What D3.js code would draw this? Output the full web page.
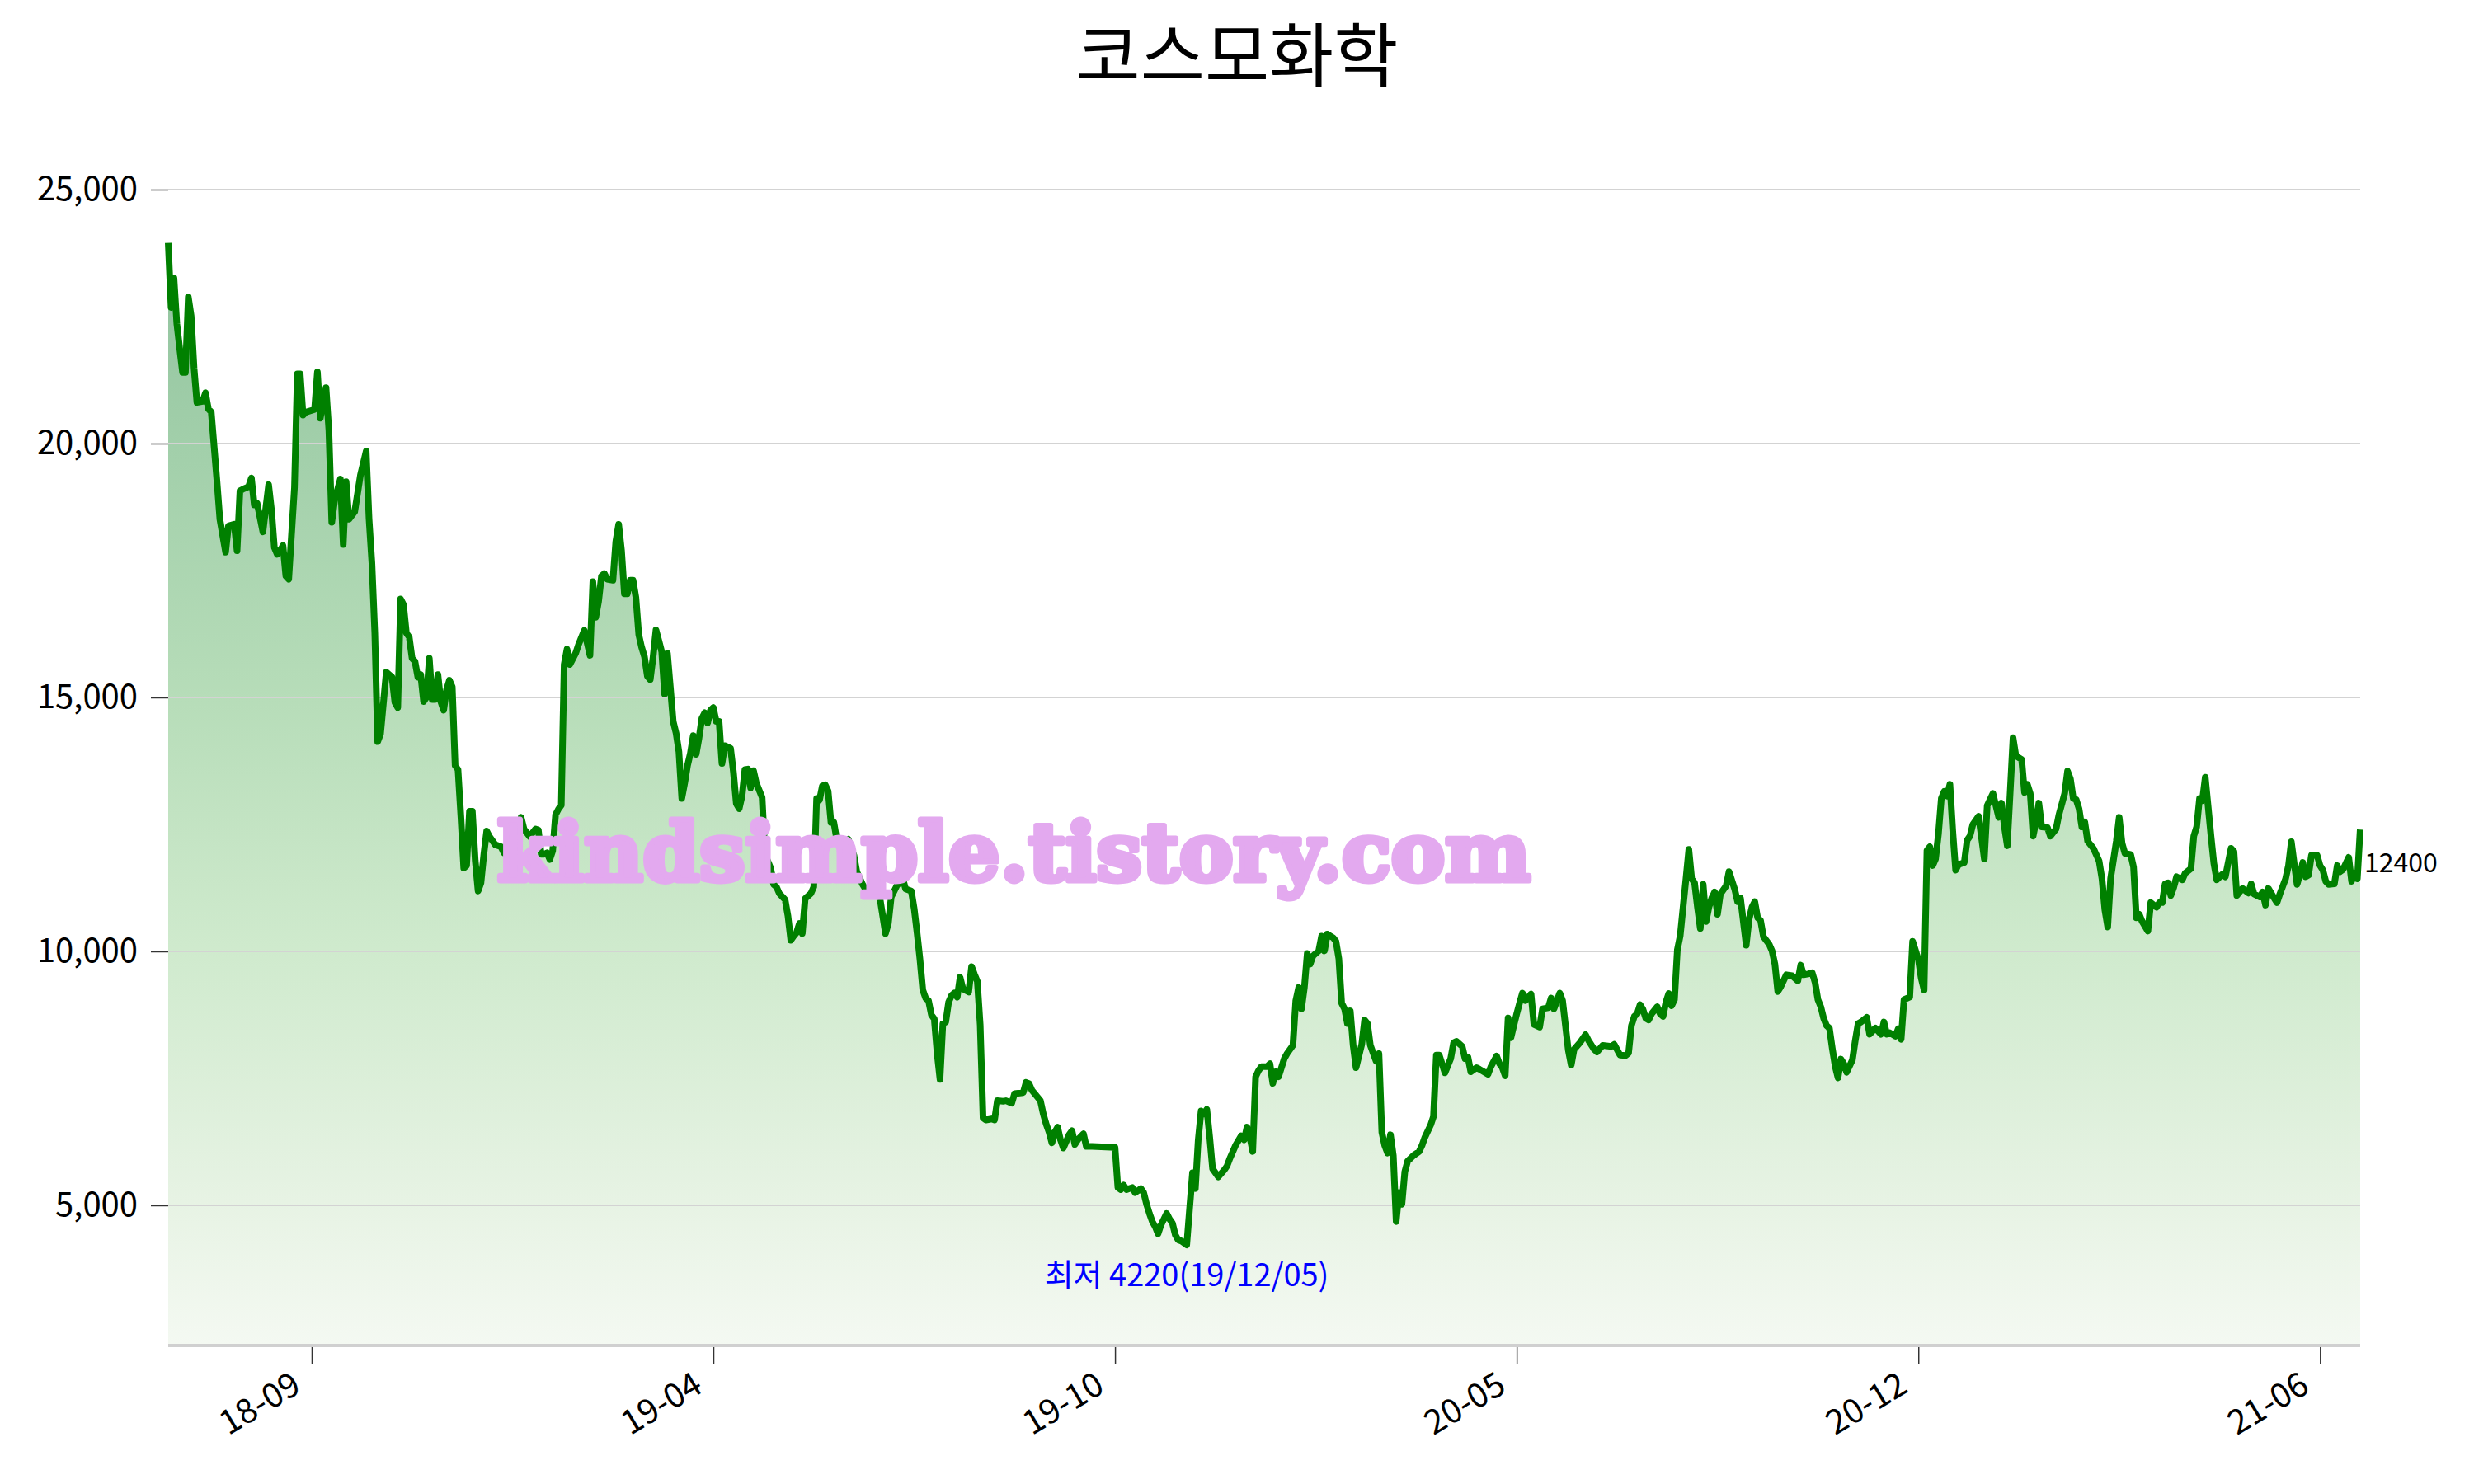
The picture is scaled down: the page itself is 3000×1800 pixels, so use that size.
<!DOCTYPE html>
<html><head><meta charset="utf-8">
<script src="https://cdn.jsdelivr.net/npm/d3@7"></script>
<style>
html,body{margin:0;padding:0;background:#fff;}
text{font-family:"Noto Sans CJK KR","Noto Sans",sans-serif;}
text.wm{font-family:"DejaVu Serif",serif;font-weight:bold;}
</style></head>
<body>
<svg id="chart" width="3000" height="1800"></svg>
<script>
const chartTitle = "코스모화학";
const watermark = "kindsimple.tistory.com";
const minDateLabel = "19/12/05";
// trading-day position of each traced vertex
const dayIndex = [0,1,2,3,4,5,6,7,8,9,10,12,13,14,15,17,18,20,21,23,24,25,26,28,29,30,31,33,35,36,37,38,39,40,41,42,44,45,46,47,48,51,52,53,55,56,57,58,60,61,62,63,65,67,69,70,71,72,73,74,76,78,79,80,81,82,83,84,85,86,87,88,89,90,91,92,93,94,95,96,97,98,99,100,101,102,103,104,105,106,107,108,109,110,111,112,114,116,117,118,121,123,124,126,128,129,130,131,132,133,134,135,136,137,138,139,140,142,143,145,147,148,149,150,151,152,153,155,156,157,158,159,160,161,162,163,164,165,166,167,168,169,170,171,172,173,174,175,176,177,178,179,180,181,182,183,184,185,186,187,188,189,190,191,192,193,194,196,197,198,199,200,201,202,203,204,205,207,208,
210,211,212,213,215,216,217,218,219,220,221,222,224,225,226,227,228,229,230,231,232,233,235,237,239,240,242,244,248,250,251,252,254,
255,256,257,259,260,261,262,263,264,265,266,267,268,269,270,271,272,273,274,275,276,277,279,280,281,282,283,284,285,287,288,289,291,292,294,295,298,299,300,301,303,304,305,306,307,308,309,310,311,312,314,315,316,317,319,320,322,330,331,332,333,334,336,337,339,340,341,342,343,344,345,346,348,349,350,351,352,353,355,356,357,358,359,360,361,362,363,364,366,368,369,370,372,374,375,376,377,378,379,380,381,383,384,385,386,387,389,390,392,393,394,395,396,397,398,399,401,402,403,404,406,407,408,409,410,411,412,413,414,416,417,418,419,421,422,423,424,425,426,427,428,429,430,431,432,434,436,437,438,440,441,442,443,445,447,448,449,451,452,453,454,456,457,460,461,463,464,465,466,467,468,469,470,471,472,473,475,476,478,479,481,482,483,485,486,488,489,490,492,494,495,497,498,500,503,504,506,508,509,
510,511,512,513,514,515,516,517,519,520,521,522,523,524,525,526,527,528,529,530,531,532,533,534,535,536,537,538,539,540,541,543,544,546,547,548,550,551,552,553,554,555,556,558,559,560,561,562,564,566,568,569,570,572,573,574,575,576,577,578,579,580,581,582,583,584,585,587,588,589,590,592,593,595,597,598,599,600,602,603,604,605,607,608,610,611,612,613,614,615,616,617,618,619,620,621,622,623,624,626,627,628,629,631,632,633,634,635,636,638,639,640,641,642,643,644,646,647,648,649,650,651,652,653,655,656,658,659,661,662,663,664,665,666,667,668,669,671,673,674,675,676,677,679,680,681,682,684,685,686,687,688,690,691,693,694,695,696,697,698,699,700,702,703,705,706,707,708,709,710,712,713,714,716,717,719,720,721,723,725,726,727,729,730,731,732,734,735,736,738,739,740,741,742,743,744,745,746,747,749,750,751,752,753,755,756,757,758,760,761,762,763,764];
const closePrice = [23950,22680,23260,22360,21870,21400,21400,22890,22510,21490,20810,20830,21000,20680,20620,19250,18510,17860,18380,18410,17890,19070,19100,19150,19320,18790,18820,18260,19190,18690,17950,17820,17890,17990,17390,17330,19130,21370,21370,20560,20620,20670,21410,20500,21100,20250,18450,18880,19300,18010,19250,18510,18660,19380,19850,18510,17640,16270,14130,14280,15500,15400,14900,14800,16940,16830,16270,16190,15770,15710,15400,15450,14920,15000,15770,14960,14960,15450,14920,14750,15150,15340,15210,13660,13580,12660,11640,11690,12760,12760,11790,11190,11350,11910,12370,12260,12100,12060,11940,12100,12040,12640,12410,12260,12410,12390,11910,11910,11940,11810,11980,12690,12800,12880,15650,15950,15650,15870,16040,16320,15830,17280,16580,16890,17390,17440,17330,17310,18070,18410,17890,17040,17040,17310,17310,16970,16240,15990,15800,15420,15350,15800,16330,16120,15900,15070,15870,15210,14530,14300,13930,13010,13310,13660,13900,14250,13880,14200,14590,14700,14500,14750,14800,14530,14530,13700,14050,14000,13530,12910,12810,13060,13580,13590,13220,13560,13310,13030,11910,
11640,11320,11270,11140,11020,10700,10220,10300,10370,10550,10350,11040,11140,11270,13010,12980,13260,13280,13160,12540,12540,12210,12140,12210,11890,11570,11320,11140,11070,10350,10550,11070,11300,
11360,11440,11230,11190,10840,10370,9850,9240,9080,9030,8750,8670,7990,7480,8580,8610,9000,9130,9180,9100,9490,9260,9200,9700,9550,9410,8560,6720,6680,6700,6680,7060,7050,7060,7010,7200,7220,7420,7400,7270,7130,7060,6800,6600,6440,6230,6440,6540,6290,6130,6390,6470,6200,6290,6410,6160,6160,6140,5350,5310,5400,5310,5350,5250,5330,5250,5020,4840,4680,4580,4440,4610,4840,4730,4650,4420,4320,4300,4220,4940,5640,5330,6290,6860,6800,6890,6340,5720,5560,5690,5770,5920,6180,6370,6290,6540,6340,6060,7530,7650,7730,7730,7790,7400,7630,7530,7890,7990,8150,9030,9290,8870,9290,9960,9750,9910,10010,10300,10010,10340,10270,10200,9860,8980,8870,8580,8830,8150,7710,8170,8650,8580,8150,7840,7990,6440,6180,6030,6390,5980,4680,5250,5020,5660,5870,5980,6060,6180,6340,6580,6750,7960,7960,7610,7890,8200,8230,8130,7890,7920,7630,7710,7680,7580,7730,7940,7790,7710,7550,8690,8300,8540,8770,8980,9180,9030,9160,8560,8510,8870,8890,9080,8870,9180,9030,8050,7760,8070,8200,8360,8250,8070,8020,8150,8130,8170,7960,7950,8000,
8540,8720,8770,8950,8860,8680,8650,8770,8910,8770,8720,9000,9170,8930,9050,10030,10310,10870,11430,12010,11430,11350,10870,10450,11320,10590,10870,11050,11170,10730,11130,11290,11570,11220,10980,11050,10120,10630,10870,10980,10660,10610,10290,10140,10010,9750,9210,9300,9540,9520,9420,9730,9540,9560,9580,9390,9050,8910,8680,8540,8490,8090,7740,7510,7880,7790,7620,7860,8240,8580,8610,8700,8370,8490,8370,8610,8370,8400,8330,8480,8270,9050,9100,10200,9840,9470,9240,11990,12060,11690,11820,12310,13010,13150,13060,13290,12360,11600,11710,11750,12190,12270,12500,12660,12250,11820,12870,12990,13110,12640,12920,12450,12080,13130,14210,13850,13780,13130,13290,13110,12270,12550,12920,12450,12440,12270,12410,12690,13110,13550,13400,13010,12990,12810,12450,12550,12170,12030,11780,11430,10820,10480,11430,12170,12640,12130,11930,11910,11660,10660,10730,10590,10400,10960,10870,10960,10960,11330,11350,11100,11260,11470,11410,11540,11630,12270,12450,13010,12970,13430,12270,11730,11410,11520,11470,12030,11970,11100,11240,11150,11330,11130,11070,11170,10910,11240,11050,10960,11130,11430,11690,12160,11730,11320,11520,11750,11470,11500,11890,11890,11690,11600,11380,11320,11330,11690,11570,11610,11850,11380,11540,11430,12400];
const yTickValues = [5000,10000,15000,20000,25000];
const xTickIndex = [50,190,330,470,610,750];
const xTickLabels = ["18-09","19-04","19-10","20-05","20-12","21-06"];

const data = d3.zip(dayIndex, closePrice).map(([i,v]) => ({i, v}));
const svg = d3.select("#chart");
const L = 204, R = 2862, T = 230, B = 1632;

const x = d3.scaleLinear().domain([0, 764]).range([L, R]);
const y = d3.scaleLinear().domain([2240, 25000]).range([B, T]);

// gradient
const defs = svg.append("defs");
const grad = defs.append("linearGradient").attr("id","fillGrad")
  .attr("gradientUnits","userSpaceOnUse").attr("x1",0).attr("x2",0).attr("y1",290).attr("y2",B);
[[0,"#90c29d"],[0.2,"#a3d0ab"],[0.42,"#b7ddb9"],[0.64,"#cfeacd"],[0.87,"#e7f3e4"],[1,"#f4f9f2"]]
  .forEach(([o,c]) => grad.append("stop").attr("offset",o).attr("stop-color",c));

// title
svg.append("text").attr("x",1500).attr("y",99).attr("text-anchor","middle")
  .attr("font-size",85).attr("fill","#000").text(chartTitle);

// area
svg.append("path").datum(data).attr("fill","url(#fillGrad)")
  .attr("d", d3.area().x(d=>x(d.i)).y0(B).y1(d=>y(d.v)));

// gridlines
svg.append("g").selectAll("line").data(yTickValues).join("line")
  .attr("x1",L).attr("x2",R).attr("y1",d=>y(d)).attr("y2",d=>y(d))
  .attr("stroke","#d3d3d3").attr("stroke-width",2);

// y axis
const yAxis = svg.append("g").attr("transform",`translate(${L},0)`)
  .call(d3.axisLeft(y).tickValues(yTickValues).tickFormat(d3.format(",")).tickSize(21).tickPadding(16));
yAxis.select(".domain").remove();
yAxis.selectAll(".tick line").attr("stroke","#333").attr("stroke-width",1.5);
yAxis.selectAll(".tick text").attr("font-size",40).attr("fill","#000");

// x axis
const xAxis = svg.append("g").attr("transform",`translate(0,${B})`)
  .call(d3.axisBottom(x).tickValues(xTickIndex).tickFormat((d,k)=>xTickLabels[k]).tickSize(22).tickPadding(0));
xAxis.select(".domain").attr("stroke","#d0d0d0").attr("stroke-width",4)
  .attr("d",`M${L},0H${R}`);
xAxis.selectAll(".tick line").attr("stroke","#333").attr("stroke-width",1.5).attr("y1",2);
xAxis.selectAll(".tick text")
  .attr("font-size",41).attr("fill","#000")
  .attr("text-anchor","end").attr("dy","0.75em")
  .attr("transform","translate(-27,29) rotate(-31)")
  .attr("y",0);

// line
svg.append("path").datum(data).attr("fill","none").attr("stroke","#008000")
  .attr("stroke-width",8).attr("stroke-linejoin","round")
  .attr("d", d3.line().x(d=>x(d.i)).y(d=>y(d.v)));

// last value label
const last = data[data.length-1];
svg.append("text").attr("x", x(last.i)+5).attr("y", y(last.v)+52)
  .attr("font-size",32).attr("fill","#000").text(String(last.v));

// min annotation
const mi = d3.minIndex(data, d=>d.v);
const mn = data[mi];
svg.append("text").attr("x", x(mn.i)).attr("y", y(mn.v)+50).attr("text-anchor","middle")
  .attr("font-size",38).attr("fill","#0000ff").text(`최저 ${mn.v}(${minDateLabel})`);

// watermark
svg.append("text").attr("class","wm").attr("x",603).attr("y",1068)
  .attr("font-size",98).attr("fill","#e3a9ef")
  .attr("stroke","#e3a9ef").attr("stroke-width",7).attr("stroke-linejoin","round")
  .attr("textLength",1253).attr("lengthAdjust","spacingAndGlyphs")
  .text(watermark);
</script>
</body></html>
